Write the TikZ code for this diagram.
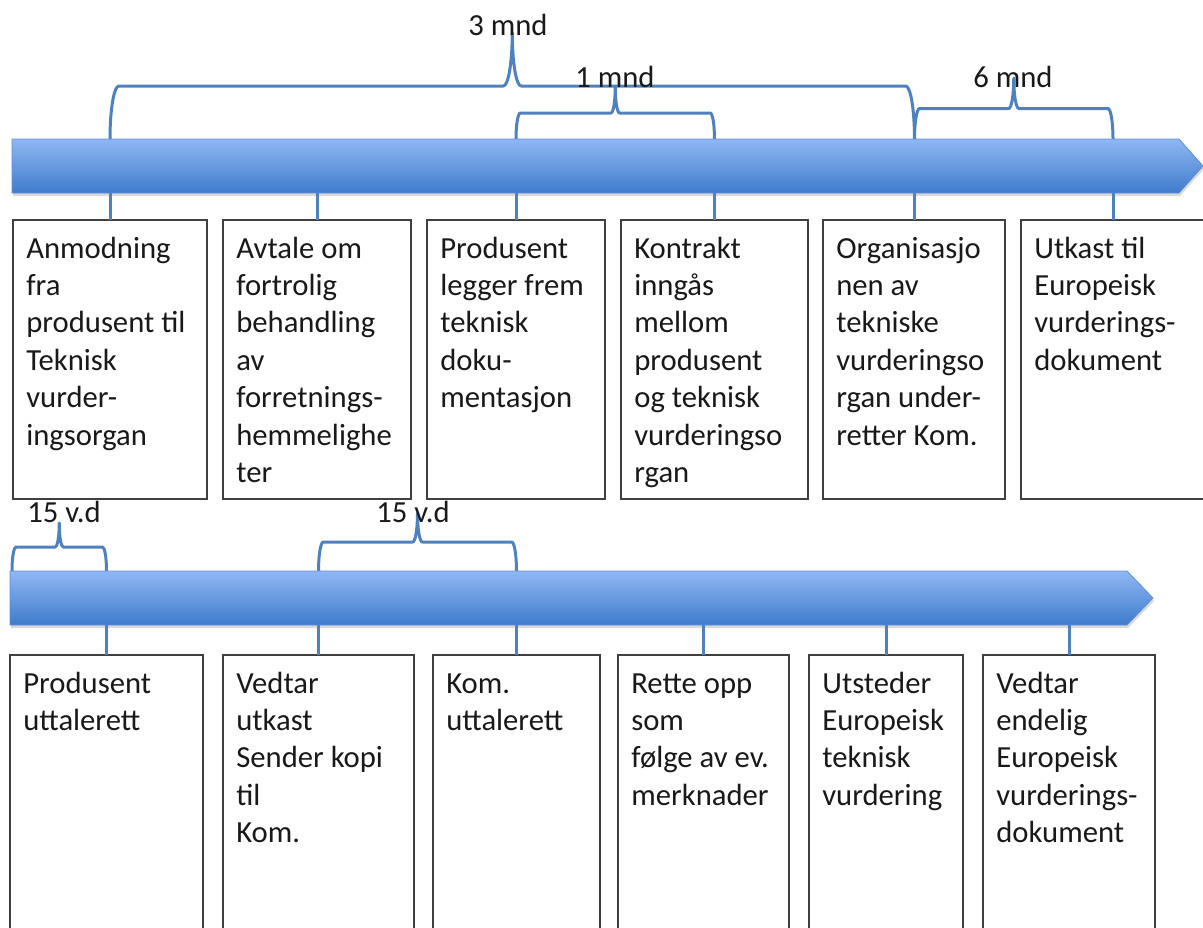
\documentclass[tikz,border=0pt]{standalone}
\usepackage{fontspec}
\setmainfont{Carlito}
\definecolor{bracecol}{RGB}{79,129,189}
\definecolor{arrtop}{RGB}{143,183,243}
\definecolor{arrbot}{RGB}{62,124,204}
\definecolor{arredge}{RGB}{96,143,212}
\tikzset{
  tbox/.style={draw=black!75, line width=1.2pt, fill=white, anchor=north west,
    inner xsep=10pt, inner ysep=8.83pt, outer sep=0pt,
    font=\fontsize{23}{28.1}\selectfont, text=black!90},
  conn/.style={draw=bracecol, line width=2.25pt},
  bracestyle/.style={draw=bracecol, line width=2.25pt, line join=round, line cap=butt},
  lbl/.style={anchor=base, inner sep=0pt, font=\fontsize{23}{28.1}\selectfont, text=black!90},
  arrowbar/.style={top color=arrtop, bottom color=arrbot, draw=arredge, line width=0.6pt},
  arrowshadow/.style={fill=black, opacity=0.15}
}
\newcommand{\bt}[3]{\parbox[t][#2pt][t]{#1pt}{\raggedright\hyphenpenalty=10000\strut #3}}
% brace: x1, x2, base y, tip y
\newcommand{\brc}[4]{%
  \pgfmathsetmacro\bxm{(#1+#2)/2}%
  \pgfmathsetmacro\bH{(#3+#4)/2}%
  \pgfmathsetmacro\br{0.0833*(#3-#4)}%
  \pgfmathsetmacro\bry{(#3-#4)/2}%
  \def\bk{0.5523}%
  \draw[bracestyle] (#1,#3) .. controls (#1,#3-\bk*\bry) and (#1+\br-\bk*\br,\bH) .. (#1+\br,\bH)
    -- (\bxm-\br,\bH) .. controls (\bxm-\br+\bk*\br,\bH) and (\bxm,#4+\bk*\bry) .. (\bxm,#4)
    .. controls (\bxm,#4+\bk*\bry) and (\bxm+\br-\bk*\br,\bH) .. (\bxm+\br,\bH)
    -- (#2-\br,\bH) .. controls (#2-\br+\bk*\br,\bH) and (#2,#3-\bk*\bry) .. (#2,#3);
}
\begin{document}
\begin{tikzpicture}[x=0.75pt,y=-0.75pt]
\useasboundingbox (0,0) rectangle (1203,928);
\clip (0,0) rectangle (1203,928);

% braces
\brc{110}{914.5}{139}{33}
\brc{516}{714.5}{139}{87}
\brc{914.5}{1113}{139}{78}
\brc{12}{106.5}{571}{523}
\brc{318.5}{516.5}{571}{513}

% arrows
\fill[arrowshadow] (13,142) -- (1180,142) -- (1204,169) -- (1180,196) -- (13,196) -- cycle;
\shade[arrowbar] (12,139) -- (1179,139) -- (1203,166) -- (1179,193) -- (12,193) -- cycle;
\fill[arrowshadow] (11,574) -- (1128,574) -- (1154,601) -- (1128,628) -- (11,628) -- cycle;
\shade[arrowbar] (10,571) -- (1127,571) -- (1153,598) -- (1127,625) -- (10,625) -- cycle;
\coordinate (A1b) at (12,193);
\coordinate (A2b) at (10,625);

% top row boxes
\node[tbox] (t1) at (13,220) {\bt{125.5}{191.6}{Anmodning\\fra\\produsent~til\\Teknisk\\vurder-\\ingsorgan}};
\node[tbox] (t2) at (223,220) {\bt{121}{191.6}{Avtale~om\\fortrolig\\behandling\\av\\forretnings-\\hemmelighe\\ter}};
\node[tbox] (t3) at (427,220) {\bt{113.5}{191.6}{Produsent\\legger~frem\\teknisk\\doku-\\mentasjon}};
\node[tbox] (t4) at (621,220) {\bt{120.25}{191.6}{Kontrakt\\inngås\\mellom\\produsent\\og~teknisk\\vurderingso\\rgan}};
\node[tbox] (t5) at (823,220) {\bt{116.5}{191.6}{Organisasjo\\nen~av\\tekniske\\vurderingso\\rgan~under-\\retter~Kom.}};
\node[tbox] (t6) at (1021,220) {\bt{118}{191.6}{Utkast~til\\Europeisk\\vurderings-\\dokument}};

% bottom row boxes
\node[tbox] (b1) at (10,655) {\bt{124.75}{196.1}{Produsent\\uttalerett}};
\node[tbox] (b2) at (223,655) {\bt{123.25}{196.1}{Vedtar\\utkast\\Sender~kopi\\til\\Kom.}};
\node[tbox] (b3) at (433,655) {\bt{105.25}{196.1}{Kom.\\uttalerett}};
\node[tbox] (b4) at (618,655) {\bt{108.25}{196.1}{Rette~opp\\som\\følge~av~ev.\\merknader}};
\node[tbox] (b5) at (809,655) {\bt{95.5}{196.1}{Utsteder\\Europeisk\\teknisk\\vurdering}};
\node[tbox] (b6) at (983,655) {\bt{109}{196.1}{Vedtar\\endelig\\Europeisk\\vurderings-\\dokument}};

% connectors
\foreach \n in {t1,t2,t3,t4,t5,t6}{\draw[conn] (\n.north) -- (\n.north |- A1b);}
\foreach \n in {b1,b2,b3,b4,b5,b6}{\draw[conn] (\n.north) -- (\n.north |- A2b);}

% labels
\node[lbl] (l1) at (508,36) {3 mnd};
\node[lbl] (l2) at (615,87) {1 mnd};
\node[lbl] (l3) at (1013,87) {6 mnd};
\node[lbl] (l4) at (64,522) {15 v.d};
\node[lbl] (l5) at (413,522) {15 v.d};
\end{tikzpicture}
\end{document}
